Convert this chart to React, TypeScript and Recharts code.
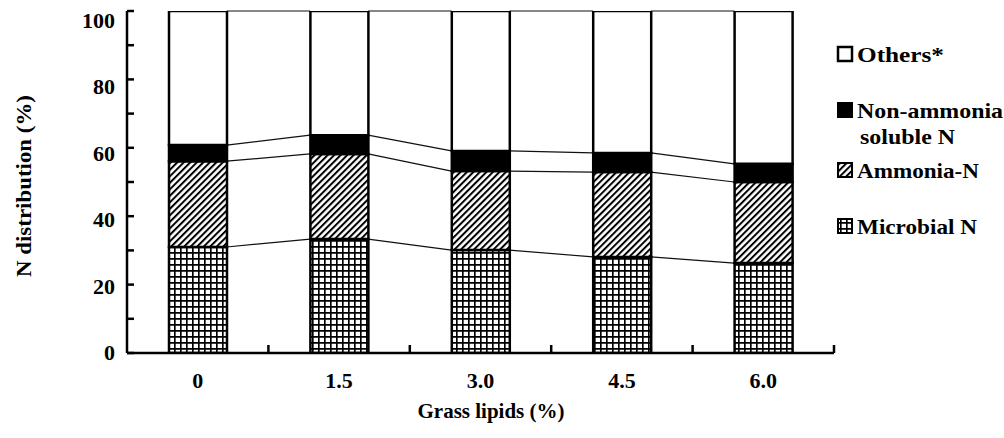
import React from 'react';
import * as R from 'recharts';

const { BarChart, Bar, XAxis, YAxis } = R as any;
const usePlotArea: any = (R as any).usePlotArea;

// ---- data ----
const lipidLevels = ['0', '1.5', '3.0', '4.5', '6.0'];
const microbialN = [31.0, 33.3, 30.1, 28.1, 26.3];
const ammoniaN = [25.1, 24.9, 23.1, 24.8, 23.7];
const nonAmmoniaN = [4.7, 5.5, 5.9, 5.6, 5.3];
const othersN = [39.2, 36.3, 40.9, 41.5, 44.7];
const yTicks = [0, 10, 20, 30, 40, 50, 60, 70, 80, 90, 100];
const yLabelTicks = [0, 20, 40, 60, 80, 100];

const data = lipidLevels.map((lipid, i) => ({
  lipid,
  microbial: microbialN[i],
  ammonia: ammoniaN[i],
  nonAmmonia: nonAmmoniaN[i],
  others: othersN[i],
}));

const FONT = "'Liberation Serif', 'Times New Roman', serif";
const TS: any = { fontFamily: FONT, fontWeight: 700 };
const BAR_SIZE = 58;
const W = 1004;
const H = 438;

function Defs() {
  return (
    <defs>
      <pattern id="gridPat" patternUnits="userSpaceOnUse" width="6" height="6">
        <rect width="6" height="6" fill="#fff" />
        <path d="M0 0.8 H6 M0.8 0 V6" stroke="#000" strokeWidth="1.7" />
      </pattern>
      <pattern id="hatchPat" patternUnits="userSpaceOnUse" width="4.6" height="4.6" patternTransform="rotate(45)">
        <rect width="4.6" height="4.6" fill="#fff" />
        <line x1="1" y1="0" x2="1" y2="4.6" stroke="#000" strokeWidth="2" />
      </pattern>
    </defs>
  );
}

function Overlay() {
  const pa = usePlotArea ? usePlotArea() : null;
  if (!pa) return null;
  const n = lipidLevels.length;
  const band = pa.width / n;
  const half = BAR_SIZE / 2;
  const yOf = (v: number) => pa.y + pa.height * (1 - v / 100);
  const levels = data.map((d) => [
    d.microbial,
    d.microbial + d.ammonia,
    d.microbial + d.ammonia + d.nonAmmonia,
    d.microbial + d.ammonia + d.nonAmmonia + d.others,
  ]);
  const lines: any[] = [];
  for (let i = 0; i < n - 1; i++) {
    const x1 = pa.x + band * (i + 0.5) + half;
    const x2 = pa.x + band * (i + 1.5) - half;
    for (let k = 0; k < 4; k++) {
      lines.push(
        <line key={`c${i}-${k}`} x1={x1} x2={x2} y1={yOf(levels[i][k])} y2={yOf(levels[i + 1][k])}
          stroke="#111" strokeWidth={1.2} />
      );
    }
  }
  const bottom = pa.y + pa.height;
  const ticks: any[] = [];
  for (let k = 1; k <= n; k++) {
    const x = pa.x + band * k;
    ticks.push(<line key={`t${k}`} x1={x} x2={x} y1={bottom} y2={bottom - 8} stroke="#000" strokeWidth={2.5} />);
  }
  return (
    <g>
      {lines}
      {ticks}
    </g>
  );
}

function LegendBlock() {
  const ix = 838;
  const tx = 857;
  const txt = (x: number, y: number, s: string, len: number) => (
    <text x={x} y={y} style={TS} fontSize={22} fill="#000"
      textLength={len} lengthAdjust="spacingAndGlyphs">{s}</text>
  );
  return (
    <g>
      <rect x={ix} y={47} width={14} height={14} fill="#fff" stroke="#000" strokeWidth={2.5} />
      {txt(tx, 62, 'Others*', 87)}
      <rect x={ix} y={103} width={14} height={14} fill="#000" stroke="#000" strokeWidth={2} />
      {txt(tx, 118, 'Non-ammonia', 146)}
      {txt(tx + 3, 144, 'soluble N', 95)}
      <rect x={ix} y={163} width={14} height={14} fill="url(#hatchPat)" stroke="#000" strokeWidth={2} />
      {txt(tx, 178, 'Ammonia-N', 122)}
      <rect x={ix} y={219} width={14} height={14} fill="url(#gridPat)" stroke="#000" strokeWidth={2} />
      {txt(tx, 234, 'Microbial N', 120)}
    </g>
  );
}

function Titles() {
  return (
    <g>
      <text x={0} y={0} transform="translate(31,186) rotate(-90)" textAnchor="middle" style={TS}
        fontSize={21} fill="#000" textLength={182} lengthAdjust="spacingAndGlyphs">
        N distribution (%)
      </text>
      <text x={491} y={418} textAnchor="middle" style={TS} fontSize={21} fill="#000">
        Grass lipids (%)
      </text>
    </g>
  );
}

const YTick = (props: any) => {
  const { x, y, payload } = props;
  const v = payload.value;
  return (
    <g>
      <line x1={x} x2={x + 7} y1={y} y2={y} stroke="#000" strokeWidth={2.5} />
      {yLabelTicks.includes(v) ? (
        <text x={x - 12} y={y + 7 + v * 0.1} textAnchor="end" style={TS} fontSize={22} fill="#000">
          {v}
        </text>
      ) : null}
    </g>
  );
};

const XTick = (props: any) => {
  const { x, y, payload } = props;
  return (
    <text x={x} y={y + 35} textAnchor="middle" style={TS} fontSize={22} fill="#000">
      {payload.value}
    </text>
  );
};

export default function App() {
  return (
    <div style={{ position: 'absolute', left: 0, top: 0, width: W, height: H, background: '#fff' }}>
      <BarChart width={W} height={H} data={data} margin={{ top: 11, right: 170, bottom: 0, left: 0 }}>
        <Defs />
        <XAxis dataKey="lipid" height={85} tickLine={false} tickSize={0} tickMargin={0}
          axisLine={{ stroke: '#000', strokeWidth: 2.5 }} tick={<XTick />} interval={0} />
        <YAxis width={127} domain={[0, 100]} ticks={yTicks} interval={0} tickLine={false} tickSize={0} tickMargin={0}
          axisLine={{ stroke: '#000', strokeWidth: 2.5 }} tick={<YTick />} allowDataOverflow />
        <Bar dataKey="microbial" stackId="a" barSize={BAR_SIZE} fill="url(#gridPat)" stroke="#000" strokeWidth={2.5} isAnimationActive={false} />
        <Bar dataKey="ammonia" stackId="a" barSize={BAR_SIZE} fill="url(#hatchPat)" stroke="#000" strokeWidth={2.5} isAnimationActive={false} />
        <Bar dataKey="nonAmmonia" stackId="a" barSize={BAR_SIZE} fill="#000" stroke="#000" strokeWidth={2.5} isAnimationActive={false} />
        <Bar dataKey="others" stackId="a" barSize={BAR_SIZE} fill="#fff" stroke="#000" strokeWidth={2.5} isAnimationActive={false} />
        <Overlay />
        <LegendBlock />
        <Titles />
      </BarChart>
    </div>
  );
}
